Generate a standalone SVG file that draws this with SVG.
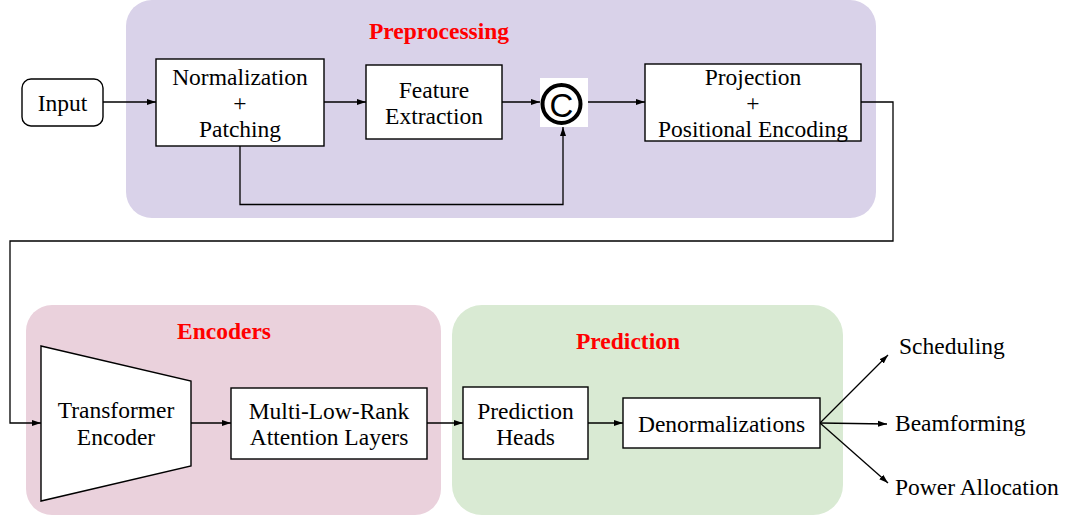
<svg xmlns="http://www.w3.org/2000/svg" width="1065" height="519" viewBox="0 0 1065 519">
<defs>
<marker id="ah" markerWidth="10" markerHeight="8" refX="9" refY="4" orient="auto" markerUnits="userSpaceOnUse">
<path d="M0,1 L9,4 L0,7 Z" fill="#000"/>
</marker>
<style>
.box{fill:#fff;stroke:#000;stroke-width:1.4}
.t{font-family:"Liberation Serif","Times New Roman",serif;font-size:23.5px;fill:#000;text-anchor:middle;dominant-baseline:central}
.tl{font-family:"Liberation Serif","Times New Roman",serif;font-size:23.5px;fill:#000;dominant-baseline:central}
.title{font-family:"Liberation Serif","Times New Roman",serif;font-size:23.5px;font-weight:bold;fill:#ff0000;text-anchor:middle;dominant-baseline:central}
.c{fill:none;stroke:#000;stroke-width:1.3}
</style>
</defs>
<rect width="1065" height="519" fill="#fff"/>
<g id="preprocessing">
<rect x="126" y="0" width="750" height="218" rx="26" fill="#d9d2e9"/>
<text class="title" x="439" y="31">Preprocessing</text>
</g>
<g id="encoders">
<rect x="26" y="305" width="415" height="210" rx="26" fill="#ead1dc"/>
<text class="title" x="224" y="331">Encoders</text>
</g>
<g id="prediction">
<rect x="452" y="305" width="391" height="210" rx="30" fill="#d9ead3"/>
<text class="title" x="628" y="341">Prediction</text>
</g>
<g id="connectors">
<line class="c" x1="103" y1="102" x2="156" y2="102" marker-end="url(#ah)"/>
<line class="c" x1="324" y1="102" x2="366" y2="102" marker-end="url(#ah)"/>
<line class="c" x1="502" y1="102" x2="540" y2="102" marker-end="url(#ah)"/>
<polyline class="c" points="240,146 240,204.5 563,204.5 563,127" marker-end="url(#ah)"/>
<line class="c" x1="588" y1="102" x2="645" y2="102" marker-end="url(#ah)"/>
<polyline class="c" points="861,102 893,102 893,241 10,241 10,423 41,423" marker-end="url(#ah)"/>
<line class="c" x1="191" y1="423" x2="231" y2="423" marker-end="url(#ah)"/>
<line class="c" x1="427" y1="423" x2="463" y2="423" marker-end="url(#ah)"/>
<line class="c" x1="588" y1="423" x2="623" y2="423" marker-end="url(#ah)"/>
<line class="c" x1="820" y1="423" x2="888" y2="355" marker-end="url(#ah)"/>
<line class="c" x1="820" y1="423" x2="887" y2="424" marker-end="url(#ah)"/>
<line class="c" x1="820" y1="423" x2="888" y2="483" marker-end="url(#ah)"/>
</g>
<g id="input">
<rect class="box" x="22" y="79" width="81" height="47" rx="9"/>
<text class="t" x="62.5" y="103">Input</text>
</g>
<g id="normalization">
<rect class="box" x="156" y="59" width="168" height="87"/>
<text class="t" x="240" y="77">Normalization</text>
<text class="t" x="240" y="103">+</text>
<text class="t" x="240" y="129">Patching</text>
</g>
<g id="feature-extraction">
<rect class="box" x="366" y="65" width="136" height="74"/>
<text class="t" x="434" y="90">Feature</text>
<text class="t" x="434" y="116">Extraction</text>
</g>
<g id="concat">
<rect x="540" y="78" width="48" height="49" fill="#fff"/>
<circle cx="561.5" cy="104" r="19" fill="none" stroke="#000" stroke-width="4"/>
<text x="561.5" y="105" font-family="Liberation Sans, Arial, sans-serif" font-size="33" text-anchor="middle" dominant-baseline="central">C</text>
</g>
<g id="projection">
<rect class="box" x="645" y="64" width="216" height="77"/>
<text class="t" x="753" y="77">Projection</text>
<text class="t" x="753" y="103">+</text>
<text class="t" x="753" y="129">Positional Encoding</text>
</g>
<g id="transformer-encoder">
<polygon class="box" points="41,346 191,381 191,466 41,501"/>
<text class="t" x="116" y="410">Transformer</text>
<text class="t" x="116" y="437">Encoder</text>
</g>
<g id="attention">
<rect class="box" x="231" y="388" width="196" height="71"/>
<text class="t" x="329" y="411">Multi-Low-Rank</text>
<text class="t" x="329" y="437">Attention Layers</text>
</g>
<g id="prediction-heads">
<rect class="box" x="463" y="387" width="125" height="72"/>
<text class="t" x="525.5" y="411">Prediction</text>
<text class="t" x="525.5" y="437">Heads</text>
</g>
<g id="denormalizations">
<rect class="box" x="623" y="398" width="197" height="50"/>
<text class="t" x="721.5" y="424">Denormalizations</text>
</g>
<g id="outputs">
<text class="tl" x="899" y="346">Scheduling</text>
<text class="tl" x="895" y="423">Beamforming</text>
<text class="tl" x="895" y="487">Power Allocation</text>
</g>
</svg>
